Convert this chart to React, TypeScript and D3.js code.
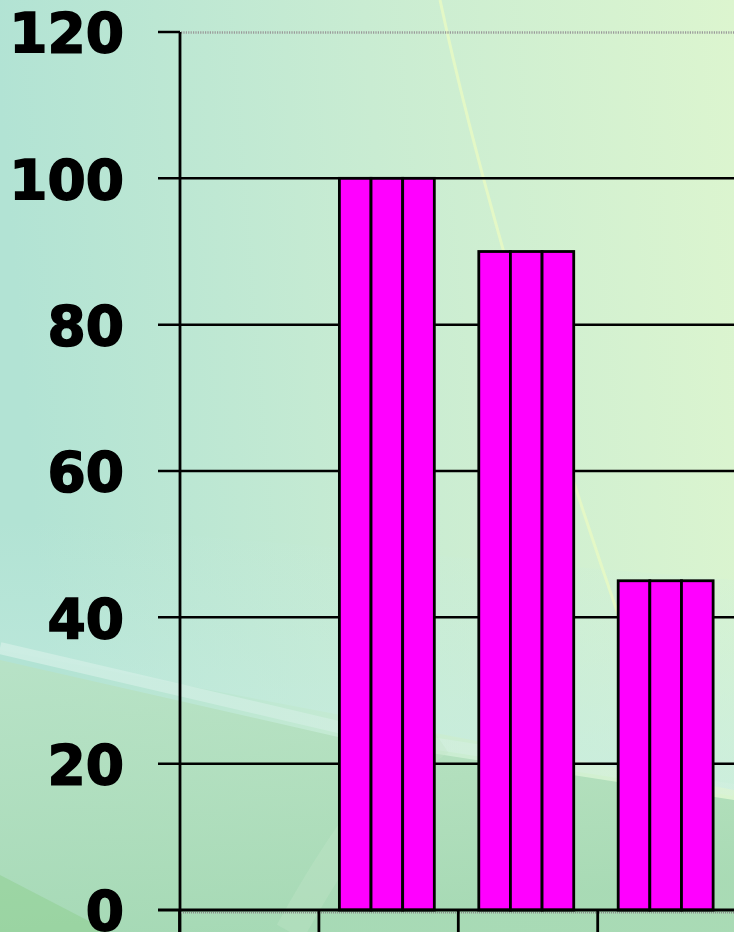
import React from "react";
import * as d3 from "d3";

const categories = ["C1", "C2", "C3", "C4"];
const series = ["S1", "S2", "S3"];
const valuesS1 = [0, 100, 90, 45];
const valuesS2 = [0, 100, 90, 45];
const valuesS3 = [0, 100, 90, 45];
const yTicks = [0, 20, 40, 60, 80, 100, 120];

const W = 734;
const H = 932;

export default function App() {
  const seriesValues = [valuesS1, valuesS2, valuesS3];
  const x0 = d3.scaleBand<string>().domain(categories).range([179.5, 179.5 + 4 * 139.4]).padding(0);
  const bw = x0.bandwidth();
  const x1 = d3.scaleBand<string>().domain(series).range([bw * 0.147, bw * 0.828]).padding(0);
  const y = d3.scaleLinear().domain([0, 120]).range([910, 32]);

  const bars: React.ReactNode[] = [];
  categories.forEach((c, ci) => {
    series.forEach((s, si) => {
      const v = seriesValues[si][ci];
      if (v <= 0) return;
      bars.push(
        <rect
          key={c + s}
          x={(x0(c) as number) + (x1(s) as number)}
          y={y(v)}
          width={x1.bandwidth()}
          height={y(0) - y(v)}
          fill="#ff00ff"
          stroke="#000"
          strokeWidth={2.8}
        />
      );
    });
  });

  return (
    <svg width={W} height={H} style={{ position: "absolute", left: 0, top: 0 }}>
      <defs>
        <linearGradient id="bg" x1="0" y1="0.1" x2="1" y2="0">
          <stop offset="0" stopColor="#b2e3d4" />
          <stop offset="0.5" stopColor="#c9ecd2" />
          <stop offset="1" stopColor="#dcf5cf" />
        </linearGradient>
        <linearGradient id="band" x1="0" y1="0" x2="0" y2="1">
          <stop offset="0" stopColor="#c6ece2" stopOpacity="0" />
          <stop offset="1" stopColor="#c6ece2" stopOpacity="0.7" />
        </linearGradient>
        <linearGradient id="low" x1="0" y1="0" x2="0.3" y2="1">
          <stop offset="0" stopColor="#b9e2c2" stopOpacity="0.75" />
          <stop offset="1" stopColor="#a4d8b2" stopOpacity="0.9" />
        </linearGradient>
        <linearGradient id="hl" x1="0" y1="0" x2="1" y2="0">
          <stop offset="0" stopColor="#d2efe6" stopOpacity="0.8" />
          <stop offset="1" stopColor="#d8f0e4" stopOpacity="0.3" />
        </linearGradient>
      </defs>
      <rect x={0} y={0} width={W} height={H} fill="url(#bg)" />
      <path d="M0,520 L734,580 L734,790 L0,650 Z" fill="url(#band)" />
      <path d="M0,660 L360,742 L734,800 L734,932 L0,932 Z" fill="url(#low)" />
      <path d="M0,648 L360,732 L734,790" fill="none" stroke="url(#hl)" strokeWidth={12} />
      <path d="M290,932 C330,860 380,780 440,740" fill="none" stroke="#c4e6c8" strokeWidth={30} opacity={0.35} />
      <path d="M0,875 L110,932 L0,932 Z" fill="#8fd092" opacity={0.55} />
      <path d="M440,0 C470,140 530,360 620,620" fill="none" stroke="#e6f8c4" strokeWidth={3} opacity={0.9} />

      {/* gridlines */}
      {yTicks.filter((t) => t > 0 && t < 120).map((t) => (
        <line key={t} x1={158} x2={W} y1={y(t)} y2={y(t)} stroke="#000" strokeWidth={2.5} />
      ))}
      <line x1={158} x2={180} y1={y(120)} y2={y(120)} stroke="#000" strokeWidth={2.5} />
      <line x1={181} x2={W} y1={y(120) + 0.5} y2={y(120) + 0.5} stroke="#9a9a9a" strokeWidth={2.5} strokeDasharray="1.2,1.2" />

      {bars}

      {/* axes */}
      <line x1={180} x2={180} y1={y(120)} y2={H} stroke="#000" strokeWidth={2.8} />
      <line x1={158} x2={W} y1={y(0)} y2={y(0)} stroke="#000" strokeWidth={2.8} />
      <line x1={181} x2={W} y1={y(0) + 2.8} y2={y(0) + 2.8} stroke="#8a8a8a" strokeWidth={1.5} strokeDasharray="1,1" />
      {categories.map((c) => (
        <line key={c} x1={x0(c) as number} x2={x0(c) as number} y1={y(0)} y2={H} stroke="#000" strokeWidth={2.8} />
      ))}

      {yTicks.map((t) => (
        <text
          key={t}
          x={124}
          y={y(t)}
          dy="0.37em"
          textAnchor="end"
          fontFamily="'DejaVu Sans', Verdana, sans-serif"
          fontWeight="bold"
          fontSize={55}
          stroke="#000"
          strokeWidth={1.6}
          fill="#000"
        >
          {t}
        </text>
      ))}
    </svg>
  );
}
